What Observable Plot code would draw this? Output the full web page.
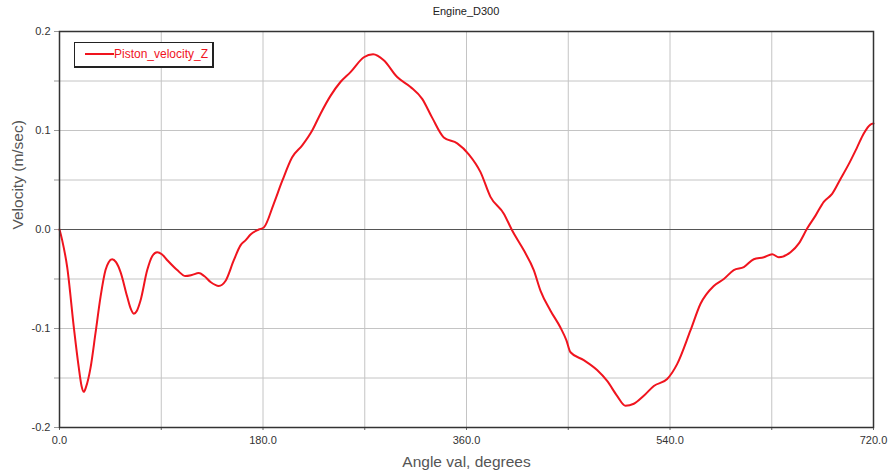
<!DOCTYPE html>
<html>
<head>
<meta charset="utf-8">
<script src="https://cdn.jsdelivr.net/npm/d3@7"></script>
<script src="https://cdn.jsdelivr.net/npm/@observablehq/plot@0.6"></script>
<style>
  html, body { margin: 0; padding: 0; background: #fff; }
  #wrap { position: relative; width: 888px; height: 476px; font-family: "Liberation Sans", Arial, sans-serif; }
  #title { position: absolute; top: 5px; left: 366px; width: 200px; text-align: center; font-size: 11px; color: #222; }
  #legend { position: absolute; left: 74px; top: 42px; width: 137px; height: 23px; border: 1px solid #222; border-right-width: 2px; border-bottom-width: 2px; background: #fff; }
  #legend .ln { position: absolute; left: 10px; top: 10px; width: 29px; height: 2px; background: #f0141e; }
  #legend .tx { position: absolute; left: 39px; top: 4px; font-size: 12px; color: #f0141e; white-space: nowrap; }
</style>
</head>
<body>
<div id="wrap">
  <div id="chart"></div>
  <div id="title">Engine_D300</div>
  <div id="legend"><div class="ln"></div><div class="tx">Piston_velocity_Z</div></div>
</div>
<script>
const seriesName = "Piston_velocity_Z";
const xLabel = "Angle val, degrees";
const yLabel = "Velocity (m/sec)";

const angle = [0, 2.4, 6.8, 12.7, 17, 19.5, 21.5, 23.5, 27.4, 31.8, 36.3, 40.7, 43.5, 46.6, 50, 54, 59.9, 63, 65.7, 68.5, 71.6, 77.6, 82, 86.4, 90.5, 95.3, 104.1, 111.4, 117, 123.2, 128, 133.6, 140.9, 146.8, 154.2, 160.1, 164.5, 169, 176.3, 180.7, 189.5, 197, 205.8, 214.7, 223.5, 230.9, 239.7, 248.5, 257.4, 269.2, 277.4, 286.8, 298.7, 310.5, 320.8, 329.6, 339.9, 351.8, 362, 372.4, 381.2, 393, 400.4, 410.7, 419.5, 425.5, 434.3, 443.1, 448.4, 452, 463.7, 475.5, 484.4, 493.2, 500.6, 508, 516.8, 525.7, 537.5, 546.3, 558.1, 567, 578.7, 587.6, 596.4, 605.3, 614.1, 623, 630.4, 636.2, 646.6, 654, 661.3, 668.7, 676, 683.4, 690.8, 698.1, 705.5, 711.4, 717.3, 720];

const velocity = [0, -0.011, -0.038, -0.099, -0.139, -0.158, -0.164, -0.159, -0.140, -0.105, -0.068, -0.041, -0.033, -0.030, -0.033, -0.043, -0.068, -0.080, -0.085, -0.082, -0.072, -0.041, -0.027, -0.023, -0.025, -0.031, -0.041, -0.047, -0.046, -0.044, -0.047, -0.053, -0.057, -0.052, -0.031, -0.016, -0.011, -0.005, 0.000, 0.002, 0.026, 0.049, 0.073, 0.085, 0.100, 0.117, 0.135, 0.149, 0.159, 0.174, 0.177, 0.171, 0.154, 0.144, 0.132, 0.113, 0.093, 0.087, 0.076, 0.058, 0.033, 0.016, -0.001, -0.021, -0.041, -0.062, -0.082, -0.099, -0.112, -0.124, -0.132, -0.142, -0.153, -0.168, -0.178, -0.176, -0.168, -0.158, -0.151, -0.136, -0.102, -0.075, -0.057, -0.050, -0.041, -0.038, -0.030, -0.028, -0.025, -0.028, -0.023, -0.014, 0.001, 0.014, 0.028, 0.036, 0.051, 0.066, 0.083, 0.097, 0.106, 0.107];

const xTicks = [0, 90, 180, 270, 360, 450, 540, 630, 720];
const yTicks = [-0.2, -0.15, -0.1, -0.05, 0, 0.05, 0.1, 0.15, 0.2];

const data = angle.map((a, i) => ({angle: a, velocity: velocity[i]}));

const chart = Plot.plot({
  width: 888,
  height: 476,
  marginLeft: 59,
  marginRight: 15,
  marginTop: 31,
  marginBottom: 49,
  style: {fontFamily: "Liberation Sans, Arial, sans-serif", background: "#fff"},
  x: {domain: [0, 720]},
  y: {domain: [-0.2, 0.2]},
  marks: [
    Plot.gridX(xTicks, {stroke: "#c4c4c4", strokeOpacity: 1}),
    Plot.gridY(yTicks, {stroke: "#c4c4c4", strokeOpacity: 1}),
    Plot.ruleY([0], {stroke: "#555"}),
    Plot.axisX(xTicks, {
      label: null, tickSize: 3, stroke: "#666", tickPadding: 6, fontSize: 11, fill: "#333",
      tickFormat: d => d % 180 === 0 ? d.toFixed(1) : ""
    }),
    Plot.axisY(yTicks, {
      label: null, tickSize: 5, stroke: "#999", tickPadding: 4, fontSize: 11, fill: "#333",
      tickFormat: d => Math.round(d * 20) % 2 !== 0 ? "" : (Math.abs(d) < 1e-9 ? "0.0" : d.toFixed(1))
    }),
    Plot.line(data, {x: "angle", y: "velocity", stroke: "#f0141e", strokeWidth: 2, curve: "monotone-x"}),
    Plot.frame({stroke: "#333", strokeWidth: 1.5}),
    Plot.text([xLabel], {frameAnchor: "bottom", dy: 39, fontSize: 15.5, fill: "#555"}),
    Plot.text([yLabel], {frameAnchor: "left", dx: -41, rotate: -90, fontSize: 15.5, fill: "#555"})
  ]
});
document.getElementById("chart").appendChild(chart);
</script>
</body>
</html>
